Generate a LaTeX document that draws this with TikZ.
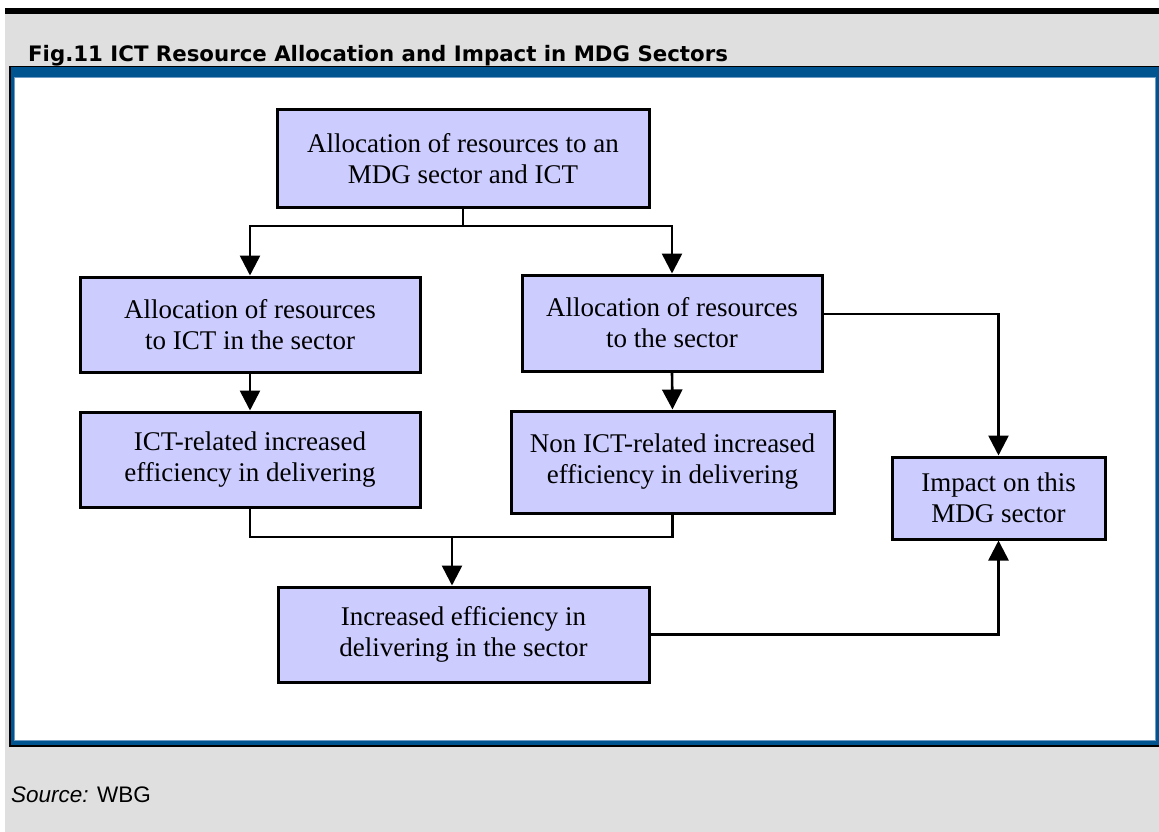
\documentclass[tikz,border=0pt]{standalone}
\usepackage{fontspec}
\setmainfont{Liberation Serif}
\newfontfamily\titlefont{DejaVu Sans}
\newfontfamily\notefont{Liberation Sans}
\usetikzlibrary{arrows.meta}

\definecolor{pageGray}{HTML}{DFDFDF}
\definecolor{frameBlue}{HTML}{005590}
\definecolor{frameLight}{HTML}{6F9CC4}
\definecolor{boxFill}{HTML}{CCCCFF}

\begin{document}
\begin{tikzpicture}[
  x=1pt, y=-1pt,
  box/.style={draw=black, fill=boxFill, line width=3pt, align=center,
              inner sep=2pt, font=\fontsize{27}{31}\selectfont},
  link/.style={line width=2.6pt},
  flow/.style={link, -{Triangle[width=20pt,length=20pt]}}
]
  \useasboundingbox (0,0) rectangle (1159,832);

  % ---- page and frame ----
  \fill[pageGray] (5,8) rectangle (1159,832);
  \fill[black] (5,8) rectangle (1159,14);
  \fill[black] (9,66) rectangle (1159,747);
  \fill[frameBlue] (11,67) rectangle (1159,745);
  \fill[white, draw=frameLight, line width=1pt] (14,78) rectangle (1155,740);

  \node[anchor=base west, inner sep=0pt, font=\titlefont\bfseries\fontsize{21.3}{25}\selectfont] (title) at (28,62)
        {Fig.11 ICT Resource Allocation and Impact in MDG Sectors};
  \node[anchor=base west, inner sep=0pt, font=\notefont\fontsize{22.5}{26}\selectfont] (source) at (11,802)
        {\textit{Source:} WBG};

  % ---- boxes ----
  \node[box, minimum width=372pt, minimum height=97pt] (alloc) at (463,158.5)
        {Allocation of resources to an\\MDG sector and ICT};
  \node[box, minimum width=340pt, minimum height=95pt] (ictalloc) at (250,324.5)
        {Allocation of resources\\to ICT in the sector};
  \node[box, minimum width=300pt, minimum height=96pt] (secalloc) at (672,323)
        {Allocation of resources\\to the sector};
  \node[box, minimum width=340pt, minimum height=95pt] (icteff) at (250,459.5)
        {ICT-related increased\\efficiency in delivering};
  \node[box, minimum width=323pt, minimum height=102pt] (noneff) at (672.5,462)
        {Non ICT-related increased\\efficiency in delivering};
  \node[box, minimum width=371pt, minimum height=95pt] (deliver) at (463.5,634.5)
        {Increased efficiency in\\delivering in the sector};
  \node[box, minimum width=213pt, minimum height=82pt] (impact) at (998.5,498)
        {Impact on this\\MDG sector};

  % ---- connectors ----
  \coordinate (split) at (463,226);
  \coordinate (join) at (452,537);
  \draw[link] (alloc.south) -- (split);
  \draw[flow] (split) -| (ictalloc.north);
  \draw[flow] (split) -| (secalloc.north);
  \draw[flow] (ictalloc.south) -- (icteff.north);
  \draw[flow] (secalloc.south) -- (noneff.north);
  \draw[link] (icteff.south) |- (join) -| (noneff.south);
  \draw[flow] (join) -- (join |- deliver.north);
  \draw[flow] ([yshift=9pt]secalloc.east) -| (impact.north);
  \draw[flow] (deliver.east) -| (impact.south);
\end{tikzpicture}
\end{document}
